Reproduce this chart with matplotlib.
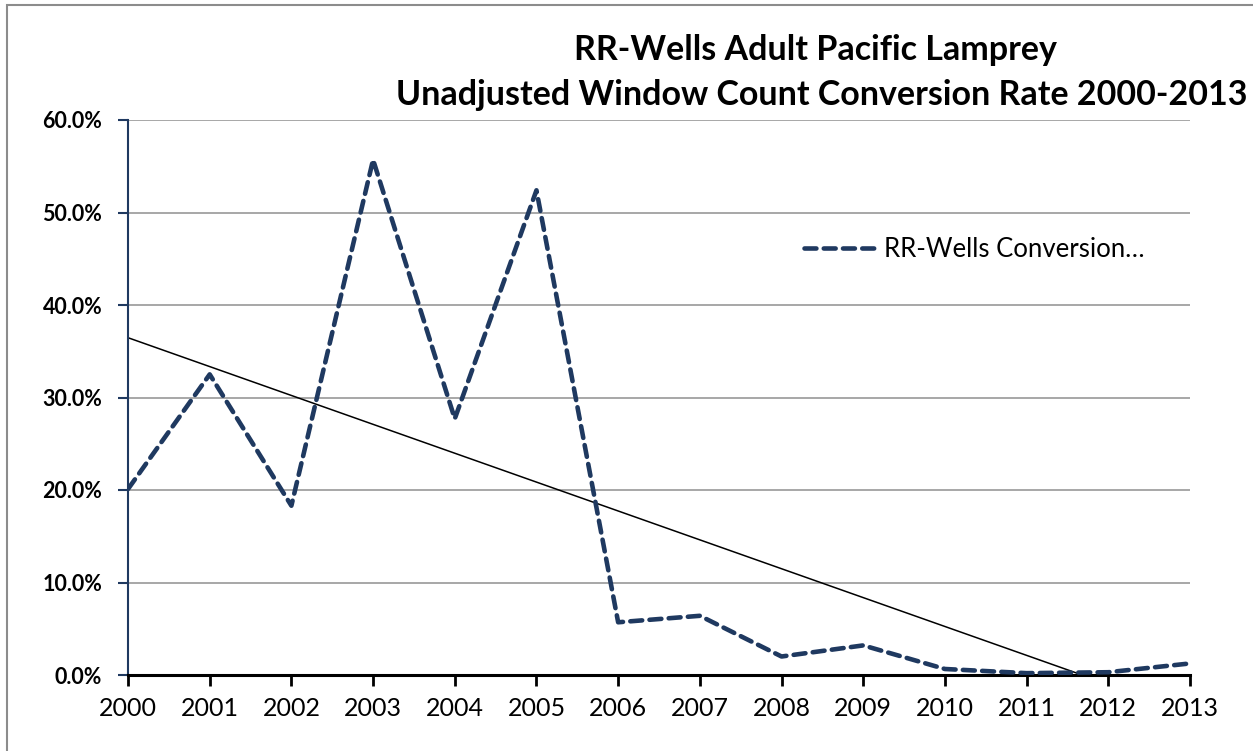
import numpy as np
import matplotlib
matplotlib.use("Agg")
import matplotlib.pyplot as plt
from matplotlib.patches import Rectangle

# --- datos ---
years = [2000, 2001, 2002, 2003, 2004, 2005, 2006, 2007, 2008, 2009, 2010, 2011, 2012, 2013]
conversion = [20.1, 32.5, 18.3, 55.7, 27.7, 52.4, 5.7, 6.4, 2.0, 3.2, 0.65, 0.2, 0.3, 1.25]
yticks = [0, 10, 20, 30, 40, 50, 60]

plt.rcParams['font.family'] = ['Lato', 'DejaVu Sans']

fig = plt.figure(figsize=(12.53, 7.51), dpi=100)
ax = fig.add_axes([128/1253, 1 - 675/751, (1190 - 128)/1253, (675 - 120)/751])

# marco exterior del gráfico
fig.patches.append(Rectangle((7/1253, -0.1), 1.2, 1 - 5/751 + 0.1, transform=fig.transFigure,
                             fill=False, edgecolor='#8c8c8c', linewidth=1.5))

navy = '#1f3960'
x = np.array(years)
y = np.array(conversion)
ax.plot(x, y, color=navy, linewidth=3.3, linestyle=(0, (2.6, 1.6)),
        dash_capstyle='round', solid_capstyle='round', label='RR-Wells Conversion…', zorder=3)

# línea de tendencia (regresión lineal)
m, b = np.polyfit(x - 2000, y, 1)
ax.plot(x, m*(x - 2000) + b, color='black', linewidth=1.1, zorder=2)

ax.set_xlim(2000, 2013)
ax.set_ylim(0, 60)
ax.set_xticks(years)
ax.set_xticklabels([str(v) for v in years], fontsize=18)
ax.set_yticks(yticks)
ax.set_yticklabels([f"{v:.1f}%" for v in yticks], fontsize=15.5, fontweight='bold')
ax.grid(axis='y', color='#a0a0a0', linewidth=1.3)
ax.set_axisbelow(True)

for s in ['top', 'right']:
    ax.spines[s].set_visible(False)
ax.spines['left'].set_color(navy)
ax.spines['left'].set_linewidth(1.5)
ax.spines['bottom'].set_color('black')
ax.spines['bottom'].set_linewidth(2.2)
ax.tick_params(axis='x', direction='out', length=8, width=2, color='black', pad=8)
ax.tick_params(axis='y', direction='out', length=7, width=1.5, color=navy, pad=11.5)

ax.legend(loc='upper left', bbox_to_anchor=(0.615, 0.83), frameon=False, fontsize=18.5,
          handlelength=2.8, handletextpad=0.3)

fig.text(815/1253, 1 - 50/751, "RR-Wells Adult Pacific Lamprey", ha='center', va='center',
         fontsize=24.5, fontweight='bold')
fig.text(822/1253, 1 - 95/751, "Unadjusted Window Count Conversion Rate 2000-2013", ha='center',
         va='center', fontsize=24.5, fontweight='bold')

fig.savefig("out.png", dpi=100)
